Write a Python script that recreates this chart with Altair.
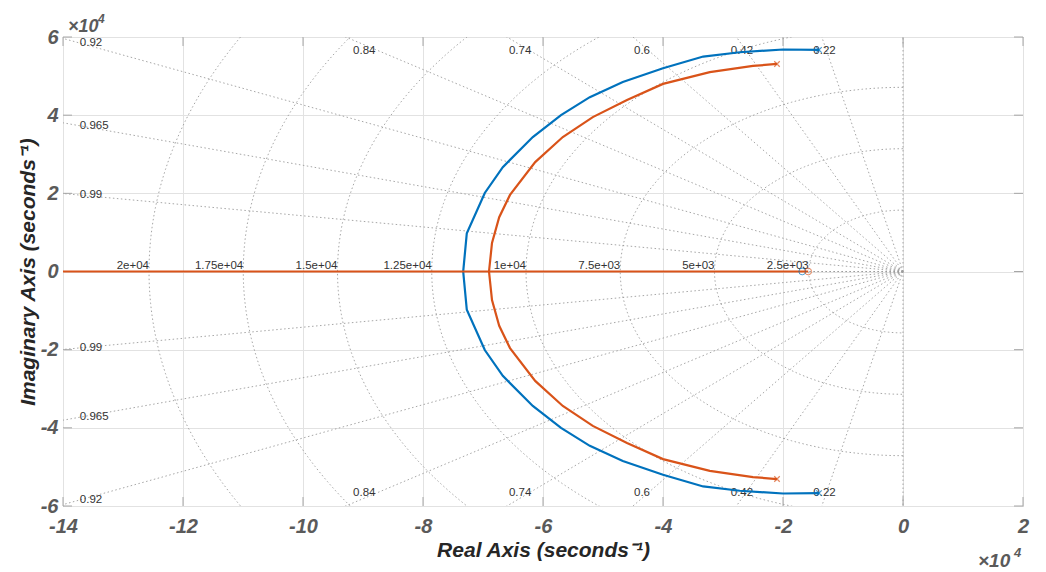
import altair as alt
import numpy as np
import pandas as pd

# ---- root locus branches (units of 1e4 s^-1) ----
blue_upper_re = [-1.40, -2.00, -2.72, -3.33, -4.00, -4.67, -5.22, -5.70, -6.17, -6.67, -6.97, -7.27, -7.33]
blue_upper_im = [5.67, 5.68, 5.61, 5.50, 5.20, 4.85, 4.46, 4.00, 3.44, 2.67, 2.01, 0.98, 0.00]
blue_lower_re = [-1.40, -2.00, -2.72, -3.33, -4.00, -4.67, -5.22, -5.70, -6.17, -6.67, -6.97, -7.27, -7.33]
blue_lower_im = [-5.67, -5.68, -5.61, -5.50, -5.20, -4.85, -4.46, -4.00, -3.44, -2.67, -2.01, -0.98, 0.00]

orange_upper_re = [-2.10, -2.50, -3.22, -4.00, -4.60, -5.17, -5.67, -6.13, -6.55, -6.73, -6.85, -6.90]
orange_upper_im = [5.31, 5.26, 5.10, 4.80, 4.39, 3.95, 3.44, 2.80, 1.96, 1.39, 0.73, 0.00]
orange_lower_re = [-2.10, -2.50, -3.22, -4.00, -4.60, -5.17, -5.67, -6.13, -6.55, -6.73, -6.85, -6.90]
orange_lower_im = [-5.31, -5.26, -5.10, -4.80, -4.39, -3.95, -3.44, -2.80, -1.96, -1.39, -0.73, 0.00]

# open-loop poles and zeros
blue_pole_re, blue_pole_im = [-1.40, -1.40], [5.67, -5.67]
orange_pole_re, orange_pole_im = [-2.10, -2.10], [5.31, -5.31]
blue_zero_re, blue_zero_im = [-1.68], [0.0]
orange_zero_re, orange_zero_im = [-1.58], [0.0]

# real-axis ends of the two branches: one runs off to -inf, one ends at the zero
far_left = -14.5

# ---- axes ----
x_ticks = [-14, -12, -10, -8, -6, -4, -2, 0, 2]
y_ticks = [-6, -4, -2, 0, 2, 4, 6]
X_DOM = [-14, 2]
Y_DOM = [-6, 6]
W, H = 960, 469

# ---- s-plane grid: damping ratios and natural frequencies (Hz) ----
zetas = [0.22, 0.42, 0.6, 0.74, 0.84, 0.92, 0.965, 0.99]
zeta_text = ["0.22", "0.42", "0.6", "0.74", "0.84", "0.92", "0.965", "0.99"]
wn_hz = [2500, 5000, 7500, 10000, 12500, 15000, 17500, 20000]
wn_text = ["2.5e+03", "5e+03", "7.5e+03", "1e+04", "1.25e+04", "1.5e+04", "1.75e+04", "2e+04"]

BLUE = "#0072BD"
ORANGE = "#D95319"
GRID = "#e2e2e2"
SGRID = "#9c9c9c"
BOX = "#a6a6a6"
LABEL = "#5a5a5a"
FONT = "Liberation Sans"

xs = alt.Scale(domain=X_DOM, nice=False, zero=False)
ys = alt.Scale(domain=Y_DOM, nice=False, zero=False)


def arc_rows(re, im, key):
    return [{"re": r, "im": i, "k": key, "o": n} for n, (r, i) in enumerate(zip(re, im))]


def tail_rows(start_re, end_re, key):
    return [{"re": start_re, "im": 0.0, "k": key, "o": 0}, {"re": end_re, "im": 0.0, "k": key, "o": 1}]


blue_arc = pd.DataFrame(arc_rows(blue_upper_re, blue_upper_im, "a") + arc_rows(blue_lower_re, blue_lower_im, "b"))
blue_tail = pd.DataFrame(tail_rows(blue_upper_re[-1], far_left, "a") + tail_rows(blue_lower_re[-1], blue_zero_re[0], "b"))
orange_arc = pd.DataFrame(arc_rows(orange_upper_re, orange_upper_im, "a") + arc_rows(orange_lower_re, orange_lower_im, "b"))
orange_tail = pd.DataFrame(tail_rows(orange_upper_re[-1], far_left, "a") + tail_rows(orange_lower_re[-1], orange_zero_re[0], "b"))

# constant-damping rays from the origin (plus zeta = 0 and zeta = 1)
R = 40.0
ray_rows = []
for z in zetas + [0.0, 1.0]:
    s = np.sqrt(1 - z * z)
    for sign in (1, -1):
        key = f"{z}_{sign}"
        ray_rows.append({"re": 0.0, "im": 0.0, "k": key, "o": 0})
        ray_rows.append({"re": -R * z, "im": sign * R * s, "k": key, "o": 1})
rays_df = pd.DataFrame(ray_rows)

# constant natural-frequency half circles, radius 2*pi*f
phi = np.linspace(0, np.pi, 241)
circ_rows = []
for f in wn_hz:
    r = 2 * np.pi * f / 1e4
    for n, p in enumerate(phi):
        circ_rows.append({"re": -r * np.sin(p), "im": r * np.cos(p), "k": str(f), "o": n})
circ_df = pd.DataFrame(circ_rows)

# label anchors for the damping rays
left_lab, top_lab, bot_lab = [], [], []
for z, t in zip(zetas, zeta_text):
    ratio = z / np.sqrt(1 - z * z)
    if ratio > (X_DOM[1] - X_DOM[0] - 2) / Y_DOM[1]:
        xl = -13.72
        left_lab.append({"re": xl, "im": -xl / ratio, "t": t})
        left_lab.append({"re": xl, "im": xl / ratio, "t": t})
    else:
        top_lab.append({"re": -5.8 * ratio, "im": 5.8, "t": t})
        bot_lab.append({"re": -5.8 * ratio, "im": -5.8, "t": t})
wn_lab = pd.DataFrame({"re": [-2 * np.pi * f / 1e4 for f in wn_hz], "im": [0.0] * len(wn_hz), "t": wn_text})

x_axis = alt.Axis(
    values=x_ticks, labelExpr="'' + datum.value", ticks=False, domain=False,
    grid=True, gridColor=GRID, gridWidth=1, labelFlush=False, labelOverlap=False,
    labelFont=FONT, labelFontSize=20, labelFontWeight="bold", labelFontStyle="italic",
    labelColor=LABEL, labelPadding=10,
    title="Real Axis (seconds⁻¹)", titleFont=FONT, titleFontSize=21,
    titleFontWeight="bold", titleFontStyle="italic", titleColor="#262626", titlePadding=3,
)
y_axis = alt.Axis(
    values=y_ticks, labelExpr="'' + datum.value", ticks=False, domain=False,
    grid=True, gridColor=GRID, gridWidth=1, labelFlush=False, labelOverlap=False,
    labelFont=FONT, labelFontSize=20, labelFontWeight="bold", labelFontStyle="italic",
    labelColor=LABEL, labelPadding=5,
    title="Imaginary Axis (seconds⁻¹)", titleFont=FONT, titleFontSize=21,
    titleFontWeight="bold", titleFontStyle="italic", titleColor="#262626", titlePadding=2,
)


def xy():
    return dict(x=alt.X("re:Q", scale=xs, axis=x_axis), y=alt.Y("im:Q", scale=ys, axis=y_axis))


dotted = dict(clip=True, color=SGRID, strokeWidth=0.9, strokeDash=[1.5, 2.5])
circles = alt.Chart(circ_df).mark_line(**dotted).encode(**xy(), detail="k:N", order="o:Q")
rays = alt.Chart(rays_df).mark_line(**dotted).encode(**xy(), detail="k:N", order="o:Q")

txt = dict(font=FONT, fontSize=11.5, color="#333333")
left_text = alt.Chart(pd.DataFrame(left_lab)).mark_text(align="left", baseline="middle", **txt).encode(**xy(), text="t:N")
top_text = alt.Chart(pd.DataFrame(top_lab)).mark_text(align="center", baseline="top", **txt).encode(**xy(), text="t:N")
bot_text = alt.Chart(pd.DataFrame(bot_lab)).mark_text(align="center", baseline="bottom", **txt).encode(**xy(), text="t:N")
wn_text_layer = alt.Chart(wn_lab).mark_text(align="right", baseline="alphabetic", dy=-3, **txt).encode(**xy(), text="t:N")

blue_tail_line = alt.Chart(blue_tail).mark_line(clip=True, color=BLUE, strokeWidth=1).encode(**xy(), detail="k:N", order="o:Q")
blue_line = alt.Chart(blue_arc).mark_line(clip=True, color=BLUE, strokeWidth=2.2).encode(**xy(), detail="k:N", order="o:Q")
orange_line = alt.Chart(orange_arc).mark_line(clip=True, color=ORANGE, strokeWidth=2.2).encode(**xy(), detail="k:N", order="o:Q")
orange_tail_line = alt.Chart(orange_tail).mark_line(clip=True, color=ORANGE, strokeWidth=2.2).encode(**xy(), detail="k:N", order="o:Q")

XSHAPE = "M-1,-1L1,1M1,-1L-1,1"
blue_poles = alt.Chart(pd.DataFrame({"re": blue_pole_re, "im": blue_pole_im})).mark_point(
    shape=XSHAPE, size=30, color=BLUE, strokeWidth=1.2, filled=False).encode(**xy())
orange_poles = alt.Chart(pd.DataFrame({"re": orange_pole_re, "im": orange_pole_im})).mark_point(
    shape=XSHAPE, size=30, color=ORANGE, strokeWidth=1.2, filled=False).encode(**xy())
blue_zeros = alt.Chart(pd.DataFrame({"re": blue_zero_re, "im": blue_zero_im})).mark_point(
    shape="circle", size=45, color=BLUE, strokeWidth=1, filled=False).encode(**xy())
orange_zeros = alt.Chart(pd.DataFrame({"re": orange_zero_re, "im": orange_zero_im})).mark_point(
    shape="circle", size=45, color=ORANGE, strokeWidth=1, filled=False).encode(**xy())

# inward tick marks on all four sides of the box
TL = 9
xt = pd.DataFrame({"re": x_ticks})
yt = pd.DataFrame({"im": y_ticks})
tick_style = dict(color=BOX, strokeWidth=1)
ticks_bottom = alt.Chart(xt).mark_rule(**tick_style).encode(
    x=alt.X("re:Q", scale=xs, axis=x_axis), y=alt.value(H), y2=alt.value(H - TL))
ticks_top = alt.Chart(xt).mark_rule(**tick_style).encode(
    x=alt.X("re:Q", scale=xs, axis=x_axis), y=alt.value(0), y2=alt.value(TL))
ticks_left = alt.Chart(yt).mark_rule(**tick_style).encode(
    y=alt.Y("im:Q", scale=ys, axis=y_axis), x=alt.value(0), x2=alt.value(TL))
ticks_right = alt.Chart(yt).mark_rule(**tick_style).encode(
    y=alt.Y("im:Q", scale=ys, axis=y_axis), x=alt.value(W), x2=alt.value(W - TL))

# axis exponent markers
exp_style = dict(font=FONT, fontWeight="bold", fontStyle="italic", color=LABEL, align="left", baseline="alphabetic")
one = pd.DataFrame({"t": ["×10"]})
four = pd.DataFrame({"t": ["4"]})
exp_tl = alt.Chart(one).mark_text(fontSize=18, **exp_style).encode(text="t:N", x=alt.value(5), y=alt.value(-5))
exp_tl4 = alt.Chart(four).mark_text(fontSize=12, **exp_style).encode(text="t:N", x=alt.value(35), y=alt.value(-14))
exp_br = alt.Chart(one).mark_text(fontSize=19, **exp_style).encode(text="t:N", x=alt.value(915), y=alt.value(530))
exp_br4 = alt.Chart(four).mark_text(fontSize=13, **exp_style).encode(text="t:N", x=alt.value(951), y=alt.value(520))

chart = alt.layer(
    circles, rays, left_text, top_text, bot_text, wn_text_layer,
    ticks_bottom, ticks_top, ticks_left, ticks_right,
    blue_tail_line, blue_line, orange_line, orange_tail_line,
    blue_poles, orange_poles, blue_zeros, orange_zeros,
    exp_tl, exp_tl4, exp_br, exp_br4,
).properties(
    width=W, height=H,
    autosize=alt.AutoSizeParams(type="none"),
    padding={"left": 63, "top": 37, "right": 1046 - 63 - W, "bottom": 572 - 37 - H},
    background="white",
).configure_view(stroke=BOX, strokeWidth=1)

chart.save("out.html", embed_options={"renderer": "svg", "actions": False})
